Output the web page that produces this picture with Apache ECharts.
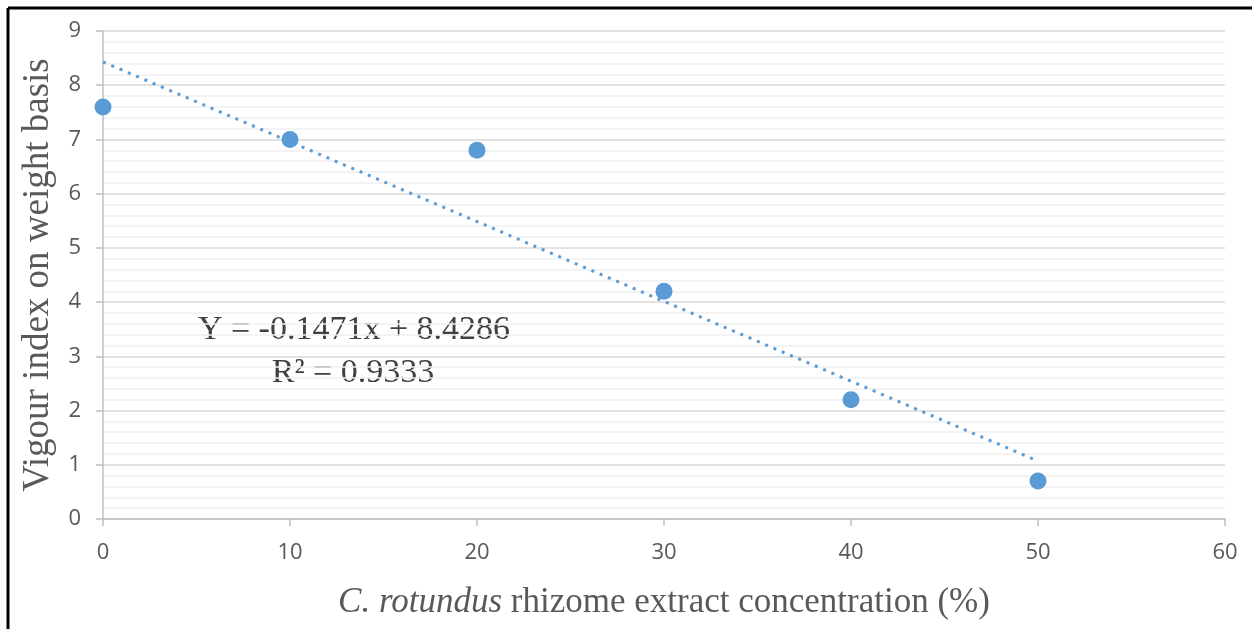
<!DOCTYPE html>
<html>
<head>
<meta charset="utf-8">
<script src="https://cdn.jsdelivr.net/npm/echarts@6/dist/echarts.min.js"></script>
<style>
  html, body { margin: 0; padding: 0; background: #fff; }
  #chart { width: 1252px; height: 629px; }
</style>
</head>
<body>
<div id="chart"></div>
<script>
// concentrations (%) and vigour index
var concentration = [0, 10, 20, 30, 40, 50];
var vigourIndex = [7.6, 7.0, 6.8, 4.2, 2.2, 0.7];
// linear trendline end points (Y = -0.1471x + 8.4286)
var trendX = [0, 50];
var trendY = [8.43, 1.07];
var equationText = 'Y = -0.1471x + 8.4286';
var r2Text = 'R\u00b2 = 0.9333';

var points = concentration.map(function (x, i) { return [x, vigourIndex[i]]; });
var trend = trendX.map(function (x, i) { return [x, trendY[i]]; });

var myChart = echarts.init(document.getElementById('chart'));
var option = {
    backgroundColor: '#fff',
    animation: false,
    grid: { left: 103, right: 27, top: 31, bottom: 110 },
    xAxis: {
        type: 'value',
        min: 0, max: 60, interval: 10,
        name: '{i|C. rotundus} rhizome extract concentration (%)',
        nameLocation: 'middle',
        nameGap: 66,
        nameTextStyle: {
            fontFamily: 'Liberation Serif', fontSize: 35, color: '#595959',
            verticalAlign: 'top',
            rich: {
                i: { fontFamily: 'Liberation Serif', fontSize: 35, fontStyle: 'italic', color: '#595959' }
            }
        },
        axisLine: { show: true, lineStyle: { color: '#bfbfbf', width: 1.5 } },
        axisTick: { show: true, length: 7, lineStyle: { color: '#bfbfbf', width: 1.5 } },
        axisLabel: { fontFamily: 'Open Sans', fontSize: 22, color: '#595959', margin: 23 },
        splitLine: { show: false }
    },
    yAxis: {
        type: 'value',
        min: 0, max: 9, interval: 1,
        name: 'Vigour index on weight basis',
        nameLocation: 'middle',
        nameGap: 46,
        nameTextStyle: { fontFamily: 'Liberation Serif', fontSize: 37, color: '#595959' },
        axisLine: { show: true, lineStyle: { color: '#bfbfbf', width: 1.5 } },
        axisTick: { show: true, length: 7, lineStyle: { color: '#bfbfbf', width: 1.5 } },
        axisLabel: { fontFamily: 'Open Sans', fontSize: 22, color: '#595959', margin: 22 },
        splitLine: { show: true, lineStyle: { color: '#d9d9d9', width: 1.5 } },
        minorTick: { show: false, splitNumber: 5 },
        minorSplitLine: { show: true, lineStyle: { color: '#f0f0f0', width: 1.5 } }
    },
    series: [
        {
            name: 'trend',
            type: 'line',
            data: trend,
            symbol: 'none',
            z: 1,
            lineStyle: { color: '#5b9bd5', width: 3, type: [3, 6] }
        },
        {
            name: 'vigour',
            type: 'scatter',
            data: points,
            symbolSize: 17,
            z: 2,
            itemStyle: { color: '#5b9bd5', opacity: 1 }
        }
    ],
    graphic: [
        { type: 'line', shape: { x1: 8, y1: 8, x2: 1252, y2: 8 }, style: { stroke: '#000', lineWidth: 3 } },
        { type: 'line', shape: { x1: 8, y1: 8, x2: 8, y2: 629 }, style: { stroke: '#000', lineWidth: 3 } },
        {
            type: 'text', x: 354, y: 330,
            style: {
                text: equationText, fontFamily: 'Liberation Serif', fontSize: 34,
                fill: '#404040', stroke: null, lineWidth: 0, align: 'center', verticalAlign: 'middle'
            }
        },
        {
            type: 'text', x: 353, y: 373,
            style: {
                text: r2Text, fontFamily: 'Liberation Serif', fontSize: 34,
                fill: '#404040', stroke: null, lineWidth: 0, align: 'center', verticalAlign: 'middle'
            }
        }
    ]
};
myChart.setOption(option);
</script>
</body>
</html>
